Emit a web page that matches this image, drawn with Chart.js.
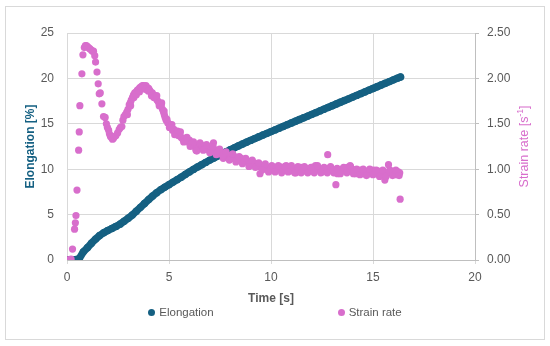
<!DOCTYPE html>
<html>
<head>
<meta charset="utf-8">
<script src="https://cdn.jsdelivr.net/npm/chart.js@4.4.1/dist/chart.umd.min.js"></script>
<style>
  body { margin: 0; background: #fff; font-family: "Liberation Sans", Arial, sans-serif; }
  #wrap { position: relative; width: 550px; height: 346px; }
  #frame { position: absolute; left: 5px; top: 6px; width: 538px; height: 332px; border: 1px solid #D9D9D9; }
  #chart { position: absolute; left: 0; top: 0; }
  #legend { position: absolute; left: 0; top: 306px; width: 550px; display: flex; justify-content: center; gap: 124px; font-size: 11.5px; color: #595959; }
  .item { display: flex; align-items: center; }
  .dot { width: 7px; height: 7px; border-radius: 50%; margin-right: 4px; }
</style>
</head>
<body>
<div id="wrap">
  <div id="frame"></div>
  <canvas id="chart" width="550" height="346"></canvas>
  <div id="legend"></div>
</div>
<script>
const elongColor = "#156082";
const strainColor = "#D86ECC";

// Elongation [%] vs time [s]
const elongTime = [0.0, 0.2, 0.4, 0.6, 0.8, 1.0, 1.2, 1.4, 1.6, 1.8, 2.0, 2.2, 2.4, 2.6, 2.8, 3.0, 3.2, 3.4, 3.6, 3.8,
  4.0, 4.2, 4.4, 4.6, 4.8, 5.0, 5.2, 5.4, 5.6, 5.8, 6.0, 6.2, 6.4, 6.6, 6.8, 7.0, 7.2, 7.4, 7.6, 7.8,
  8.0, 8.2, 8.4, 8.6, 8.8, 9.0, 9.2, 9.4, 9.6, 9.8, 10.0, 10.2, 10.4, 10.6, 10.8, 11.0, 11.2, 11.4, 11.6, 11.8,
  12.0, 12.2, 12.4, 12.6, 12.8, 13.0, 13.2, 13.4, 13.6, 13.8, 14.0, 14.2, 14.4, 14.6, 14.8, 15.0, 15.2, 15.4, 15.6, 15.8,
  16.0, 16.2, 16.35];
const elongation = [0, 0, 0.02, 0.15, 0.9, 1.35, 1.85, 2.3, 2.7, 3.0, 3.25, 3.47, 3.7, 3.95, 4.27, 4.6, 4.95, 5.38, 5.8, 6.22,
  6.65, 7.05, 7.42, 7.75, 8.03, 8.3, 8.58, 8.85, 9.12, 9.42, 9.7, 9.98, 10.25, 10.5, 10.75, 11.0, 11.24, 11.47, 11.7, 11.92,
  12.14, 12.35, 12.56, 12.77, 12.97, 13.17, 13.37, 13.57, 13.76, 13.95, 14.14, 14.33, 14.52, 14.71, 14.9, 15.09, 15.28, 15.47, 15.66, 15.85,
  16.04, 16.23, 16.42, 16.61, 16.8, 16.99, 17.18, 17.37, 17.56, 17.75, 17.94, 18.13, 18.32, 18.51, 18.7, 18.89, 19.08, 19.27, 19.46, 19.65,
  19.84, 20.03, 20.15];

// Strain rate [1/s] vs time [s]
const strainTime = [0.00, 0.05, 0.10, 0.15, 0.20, 0.27, 0.37, 0.41, 0.44, 0.49, 0.57, 0.60, 0.63, 0.73, 0.78, 0.85, 0.90, 0.95, 1.00, 1.05,
  1.10, 1.15, 1.20, 1.25, 1.30, 1.36, 1.40, 1.47, 1.53, 1.58, 1.63, 1.71, 1.79, 1.87, 1.93, 1.98, 2.04, 2.08, 2.13, 2.18,
  2.23, 2.28, 2.33, 2.40, 2.48, 2.56, 2.62, 2.69, 2.74, 2.79, 2.86, 2.93, 2.99, 3.05, 3.10, 3.15, 3.21, 3.26, 3.32, 3.38,
  3.45, 3.51, 3.57, 3.64, 3.70, 3.75, 3.81, 3.87, 3.93, 4.00, 4.05, 4.11, 4.18, 4.24, 4.30, 4.36, 4.42, 4.48, 4.55, 4.62,
  4.68, 4.73, 4.77, 4.81, 4.86, 4.94, 5.00, 5.06, 5.12, 5.17, 5.24, 5.30, 5.38, 5.46, 5.52, 5.60, 5.68, 5.76, 5.84, 5.92,
  6.00, 6.08, 6.16, 6.24, 6.32, 6.40, 6.48, 6.56, 6.64, 6.72, 6.80, 6.88, 6.96, 7.04, 7.12, 7.18, 7.26, 7.34, 7.42, 7.50,
  7.58, 7.66, 7.74, 7.82, 7.90, 7.98, 8.06, 8.14, 8.22, 8.30, 8.38, 8.46, 8.54, 8.62, 8.70, 8.78, 8.86, 8.94, 9.02, 9.10,
  9.18, 9.26, 9.34, 9.42, 9.46, 9.54, 9.62, 9.70, 9.78, 9.86, 9.94, 10.02, 10.10, 10.18, 10.26, 10.34, 10.42, 10.50, 10.58, 10.66,
  10.74, 10.82, 10.90, 10.98, 11.06, 11.14, 11.22, 11.30, 11.38, 11.46, 11.54, 11.62, 11.70, 11.78, 11.86, 11.94, 12.02, 12.10, 12.18, 12.26,
  12.34, 12.42, 12.50, 12.58, 12.66, 12.78, 12.84, 12.92, 13.00, 13.08, 13.18, 13.26, 13.34, 13.42, 13.50, 13.58, 13.66, 13.74, 13.82, 13.90,
  13.98, 14.06, 14.14, 14.22, 14.30, 14.38, 14.46, 14.54, 14.62, 14.70, 14.78, 14.86, 14.94, 15.02, 15.10, 15.18, 15.26, 15.34, 15.42, 15.50,
  15.58, 15.66, 15.76, 15.84, 15.92, 16.00, 16.08, 16.16, 16.24, 16.31, 16.33,
  // second pass through the thick part of the band
  2.96, 3.12, 3.28, 3.40, 3.55, 3.68, 3.84, 3.98, 4.14, 4.26, 4.40, 4.52, 4.64, 4.76, 4.90, 5.02, 5.14, 5.28, 5.42,
  5.56, 5.72, 5.88, 6.04, 6.20, 6.36, 6.52, 6.68, 6.84, 7.00, 7.16, 7.32, 7.48, 7.64, 7.80, 7.96, 8.12, 8.28, 8.44, 8.60,
  8.76, 8.92, 9.08, 9.24, 9.40, 9.56, 9.72, 9.88, 10.04, 10.20, 10.36, 10.52, 10.68, 10.84, 11.00, 11.16, 11.32, 11.48, 11.64, 11.80,
  11.96, 12.12, 12.28, 12.44, 12.60, 12.76, 12.92, 13.08, 13.24, 13.40, 13.56, 13.72, 13.88, 14.04, 14.20, 14.36, 14.52, 14.68, 14.84, 15.00,
  15.16, 15.32, 15.48, 15.64, 15.80, 15.96, 16.12, 16.28];
const strainRate = [0.00, 0.00, 0.00, 0.00, 0.01, 0.12, 0.34, 0.41, 0.49, 0.77, 1.21, 1.41, 1.70, 2.05, 2.26, 2.34, 2.36, 2.36, 2.35, 2.34,
  2.33, 2.32, 2.31, 2.30, 2.30, 2.25, 2.18, 2.07, 1.94, 1.83, 1.84, 1.72, 1.58, 1.57, 1.50, 1.46, 1.43, 1.39, 1.36, 1.35,
  1.33, 1.34, 1.36, 1.37, 1.40, 1.44, 1.46, 1.47, 1.54, 1.58, 1.60, 1.63, 1.66, 1.71, 1.73, 1.76, 1.79, 1.82, 1.84, 1.85,
  1.87, 1.88, 1.90, 1.91, 1.92, 1.92, 1.91, 1.92, 1.90, 1.89, 1.87, 1.85, 1.84, 1.82, 1.80, 1.78, 1.76, 1.74, 1.72, 1.70,
  1.66, 1.63, 1.60, 1.57, 1.54, 1.51, 1.50, 1.47, 1.46, 1.43, 1.44, 1.41, 1.40, 1.37, 1.38, 1.35, 1.33, 1.34, 1.31, 1.30,
  1.32, 1.28, 1.27, 1.25, 1.21, 1.26, 1.24, 1.27, 1.25, 1.23, 1.24, 1.22, 1.21, 1.23, 1.20, 1.29, 1.21, 1.19, 1.20, 1.17,
  1.18, 1.12, 1.16, 1.15, 1.14, 1.15, 1.13, 1.12, 1.14, 1.11, 1.12, 1.10, 1.12, 1.08, 1.10, 1.08, 1.09, 1.06, 1.08, 1.05,
  1.07, 1.05, 1.06, 1.03, 0.95, 1.04, 1.02, 1.03, 1.00, 1.02, 0.99, 1.01, 1.00, 1.02, 0.99, 1.01, 1.03, 1.00, 1.02, 0.99,
  1.04, 1.01, 0.99, 1.01, 0.98, 1.00, 0.96, 1.01, 0.99, 1.02, 1.00, 0.98, 1.01, 0.99, 1.00, 0.98, 1.02, 1.00, 1.04, 1.01,
  0.99, 1.00, 0.97, 0.99, 1.01, 1.16, 1.00, 1.02, 0.98, 0.96, 0.83, 0.95, 0.99, 0.98, 1.00, 0.98, 1.00, 1.02, 0.99, 1.03,
  1.00, 0.97, 0.95, 0.98, 0.97, 0.99, 0.97, 0.95, 0.98, 0.96, 0.95, 0.98, 0.97, 0.99, 0.97, 0.95, 0.98, 0.94, 0.96, 0.93,
  0.88, 0.95, 1.05, 0.99, 0.97, 0.95, 0.98, 0.94, 0.97, 0.96, 0.67,
  1.60, 1.70, 1.79, 1.82, 1.85, 1.89, 1.88, 1.86, 1.81, 1.79, 1.81, 1.70, 1.73, 1.64, 1.55, 1.46, 1.49, 1.38, 1.42,
  1.41, 1.30, 1.35, 1.25, 1.30, 1.20, 1.29, 1.21, 1.27, 1.18, 1.25, 1.16, 1.22, 1.15, 1.19, 1.10, 1.17, 1.08, 1.14, 1.06,
  1.12, 1.03, 1.10, 1.02, 1.07, 0.99, 1.06, 0.97, 1.04, 0.97, 1.04, 0.96, 1.03, 0.97, 1.04, 0.96, 1.03, 0.96, 1.03, 0.96,
  1.02, 0.96, 1.04, 0.96, 1.02, 0.96, 1.03, 0.99, 1.01, 0.95, 1.02, 0.96, 1.04, 0.95, 1.00, 0.94, 1.00, 0.93, 1.00, 0.94,
  0.99, 0.92, 0.99, 0.92, 0.98, 0.93, 0.99, 0.93];

const xTitle = "Time [s]";
const leftTitle = "Elongation [%]";
const rightTitle = ["Strain rate [s", "-1", "]"];

function toPoints(xs, ys) {
    return xs.map((x, i) => ({ x: x, y: ys[i] }));
}

// right axis title reads bottom-to-top with a superscript, so it is drawn here
const rightTitlePlugin = {
    id: "rightTitle",
    afterDraw(chart) {
        const ctx = chart.ctx;
        const area = chart.chartArea;
        const big = "12.5px 'Liberation Sans', Arial, sans-serif";
        const small = "8.5px 'Liberation Sans', Arial, sans-serif";
        ctx.save();
        ctx.translate(chart.scales.y1.right - 25, (area.top + area.bottom) / 2);
        ctx.rotate(-Math.PI / 2);
        ctx.fillStyle = strainColor;
        ctx.textBaseline = "middle";
        ctx.font = big;
        const w0 = ctx.measureText(rightTitle[0]).width;
        const w2 = ctx.measureText(rightTitle[2]).width;
        ctx.font = small;
        const w1 = ctx.measureText(rightTitle[1]).width;
        let x = -(w0 + w1 + w2) / 2;
        ctx.font = big;
        ctx.fillText(rightTitle[0], x, 0);
        x += w0;
        ctx.font = small;
        ctx.fillText(rightTitle[1], x, -4);
        x += w1;
        ctx.font = big;
        ctx.fillText(rightTitle[2], x, 0);
        ctx.restore();
    }
};

Chart.defaults.font.family = "'Liberation Sans', Arial, sans-serif";
Chart.defaults.font.size = 12;
Chart.defaults.color = "#595959";

const chart = new Chart(document.getElementById("chart"), {
    type: "scatter",
    data: {
        datasets: [
            {
                label: "Elongation",
                data: toPoints(elongTime, elongation),
                yAxisID: "y",
                backgroundColor: elongColor,
                borderColor: elongColor,
                borderWidth: 7.4,
                borderCapStyle: "round",
                borderJoinStyle: "round",
                showLine: true,
                pointBorderWidth: 0,
                pointRadius: 3.7,
                order: 1
            },
            {
                label: "Strain rate",
                data: toPoints(strainTime, strainRate),
                yAxisID: "y1",
                backgroundColor: strainColor,
                borderColor: strainColor,
                borderWidth: 0,
                pointRadius: 3.6,
                order: 0
            }
        ]
    },
    options: {
        responsive: false,
        animation: false,
        devicePixelRatio: 1,
        layout: { padding: { top: 33, bottom: 36, left: 0, right: 0 } },
        plugins: {
            legend: { display: false },
            tooltip: { enabled: false }
        },
        scales: {
            x: {
                type: "linear",
                min: 0,
                max: 20,
                ticks: { stepSize: 5, padding: 6 },
                grid: { color: "#D9D9D9", tickLength: 4 },
                border: { color: "#BFBFBF" },
                title: { display: true, text: xTitle, font: { size: 12, weight: "bold" }, padding: { top: 0, bottom: 4 } },
                afterFit: (scale) => { scale.height = 50; }
            },
            y: {
                position: "left",
                min: 0,
                max: 25,
                ticks: { stepSize: 5, padding: 13 },
                grid: { color: "#D9D9D9", drawTicks: false },
                border: { display: false },
                title: { display: true, text: leftTitle, color: elongColor, font: { size: 12, weight: "bold" }, padding: { top: 23, bottom: 0 } },
                afterFit: (scale) => { scale.width = 67; }
            },
            y1: {
                position: "right",
                min: 0,
                max: 2.5,
                ticks: { stepSize: 0.5, padding: 8, callback: (v) => v.toFixed(2) },
                grid: { drawOnChartArea: false, color: "#BFBFBF", tickLength: 4 },
                border: { color: "#BFBFBF" },
                afterFit: (scale) => { scale.width = 75; }
            }
        }
    },
    plugins: [rightTitlePlugin]
});

// legend spread like the original, built from the datasets
const legendBox = document.getElementById("legend");
chart.data.datasets.forEach(ds => {
    const item = document.createElement("div");
    item.className = "item";
    const dot = document.createElement("span");
    dot.className = "dot";
    dot.style.background = ds.backgroundColor;
    const label = document.createElement("span");
    label.textContent = ds.label;
    item.appendChild(dot);
    item.appendChild(label);
    legendBox.appendChild(item);
});
</script>
</body>
</html>
